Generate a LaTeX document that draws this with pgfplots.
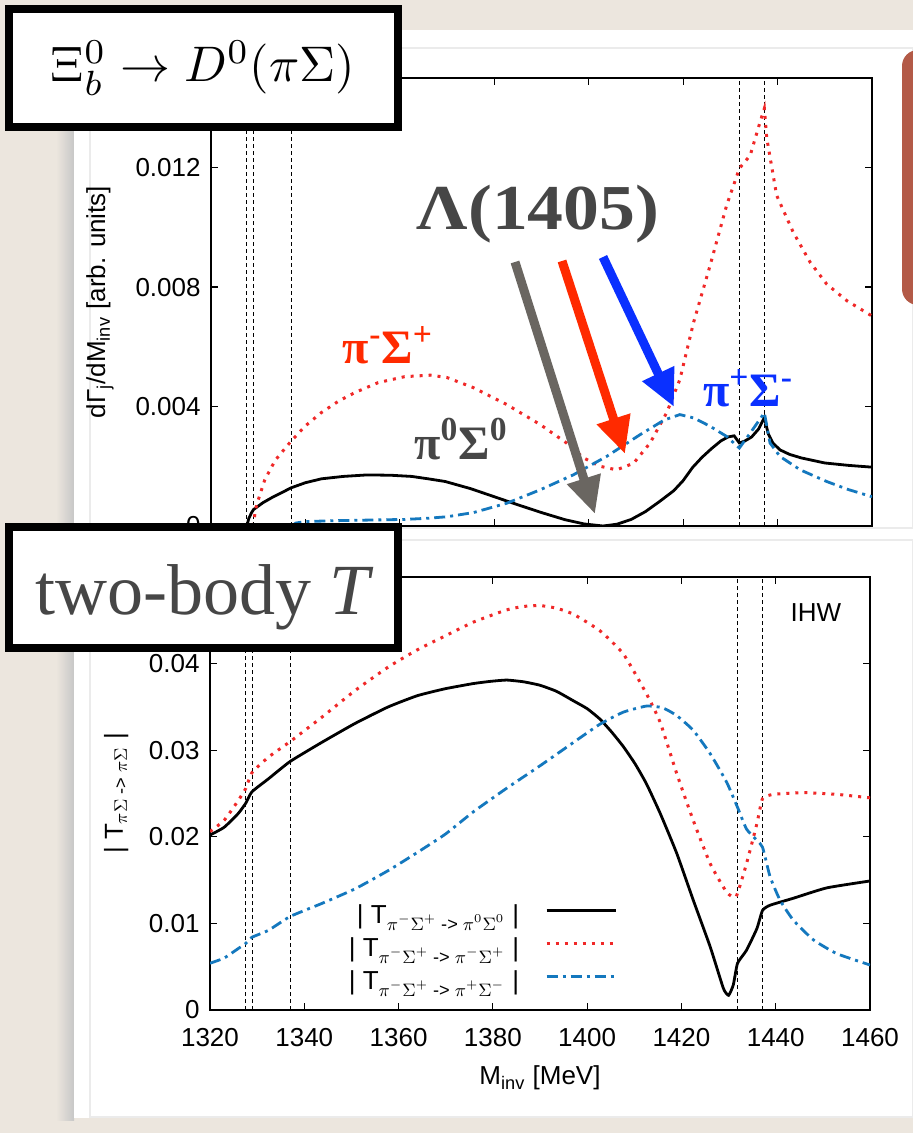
\documentclass[border=0pt]{standalone}
\usepackage{fontspec}
\usepackage{amsmath}
\usepackage{graphicx}
\usepackage{pgfplots}
\pgfplotsset{compat=1.18}
\usetikzlibrary{arrows.meta}
\newfontfamily\arial{Liberation Sans}
\newfontfamily\tms{Liberation Serif}

\definecolor{paper}{HTML}{ECE6DE}
\definecolor{cred}{HTML}{F02828}
\definecolor{cblue}{HTML}{1478BE}
\definecolor{ared}{HTML}{FF2A00}
\definecolor{ablue}{HTML}{0A30FF}
\definecolor{agray}{HTML}{6A6661}
\definecolor{tgray}{HTML}{464646}
\definecolor{redshape}{HTML}{B35A47}

\pgfplotsset{
  panel/.style={
    scale only axis, xmin=1320, xmax=1460,
    axis line style={line width=0.8pt},
    tick style={black, line width=0.6pt},
    major tick length=3.5pt,
    xtick={1320,1340,...,1460},
    tick align=inside,
    scaled ticks=false,
    tick label style={inner sep=0pt},
    yticklabel shift=5pt,
    xticklabel shift=9pt,
  },
  cA/.style={black, line width=1.4pt},
  cB/.style={cred, line width=1.5pt, dash pattern=on 1.5pt off 3pt},
  cC/.style={cblue, line width=1.4pt, dash pattern=on 5.5pt off 2.5pt on 1.5pt off 2.5pt},
  thr/.style={black, line width=0.4pt, dash pattern=on 2pt off 1.5pt, forget plot},
}

\begin{document}
{\arial\fontsize{13}{15}\selectfont
\begin{tikzpicture}
\useasboundingbox (0,0) rectangle (456.5pt,-566.5pt);

% background: paper and white card
\begin{scope}[x=0.5pt,y=-0.5pt]
\fill[paper] (0,0) rectangle (913,1133);
\shade[left color=paper, right color=black!22] (56,30) rectangle (74,1120);
\fill[white] (74,30) rectangle (913,1118);
\draw[black!8, line width=0.6pt] (90,48) rectangle (913,528);
\draw[black!8, line width=0.6pt] (90,540) rectangle (913,1117);
\fill[redshape, rounded corners=8pt] (902,50) rectangle (940,305);
\end{scope}

% top panel: decay spectrum
\begin{axis}[panel, at={(105.5pt,-263pt)}, anchor=south west,
  width=330.5pt, height=224pt,
  ymin=0, ymax=0.015,
  ytick={0,0.004,0.008,0.012}, yticklabels={0,0.004,0.008,0.012},
  xticklabels={},
  ylabel={dΓ\textsubscript{j}/dM\textsubscript{inv} [arb. units]},
  ylabel style={at={(axis description cs:-0.168,0.5)}, anchor=center},
]
\addplot[thr] coordinates {(1327.6,0)(1327.6,0.015)};
\addplot[thr] coordinates {(1328.9,0)(1328.9,0.015)};
\addplot[thr] coordinates {(1337.0,0)(1337.0,0.015)};
\addplot[thr] coordinates {(1431.9,0)(1431.9,0.015)};
\addplot[thr] coordinates {(1437.2,0)(1437.2,0.015)};
\addplot[cA] coordinates {
(1320,0)(1327.6,0)(1328.0,0.00025)(1328.6,0.00045)(1329,0.00055)(1331,0.00078)
(1333,0.00096)(1335,0.00112)(1337,0.00128)(1340,0.00145)(1343.4,0.00158)
(1348,0.00166)(1353,0.00171)(1358,0.0017)(1362.5,0.00166)(1366,0.00158)
(1369.6,0.00149)(1375,0.00125)(1380,0.00098)(1385,0.00071)(1390,0.00045)
(1395,0.00021)(1399,0.00007)(1403,0.0)(1406,0.00006)(1409,0.00022)(1412,0.00048)
(1415,0.00082)(1418,0.00118)(1420,0.00152)(1422,0.00196)(1424,0.0023)
(1426,0.00259)(1428,0.00285)(1429.5,0.00298)(1430.8,0.00302)(1431.9,0.00278)
(1433,0.00284)(1434.5,0.00298)(1436,0.00325)(1437.2,0.00363)(1438,0.0031)
(1439,0.00278)(1440.5,0.00255)(1442.5,0.0024)(1445,0.00228)(1450,0.00211)
(1455,0.00203)(1460,0.00197)
};
\addplot[cB] coordinates {
(1328.9,0)(1329.5,0.0006)(1330,0.00087)(1331.4,0.00155)(1333.6,0.0022)
(1336.9,0.00283)(1339.9,0.00334)(1343.4,0.0038)(1347,0.00418)(1350.5,0.00447)
(1355.4,0.0048)(1361,0.005)(1366.5,0.00505)(1370,0.00497)(1375.6,0.00463)
(1382.6,0.00407)(1389.7,0.0034)(1395.3,0.00278)(1398.9,0.00228)(1402.4,0.002)
(1405.9,0.00188)(1409.5,0.0021)(1413,0.00278)(1416.5,0.00379)(1419.3,0.0049)
(1422.2,0.00681)(1425.7,0.00872)(1429.2,0.01073)(1431.9,0.01197)(1434.2,0.01241)
(1436.3,0.01353)(1437.2,0.01398)(1437.7,0.013)(1439.8,0.01107)(1443.3,0.00984)
(1446.9,0.00883)(1450.4,0.0081)(1454.7,0.00754)(1460,0.00703)
};
\addplot[cC] coordinates {
(1337,0)(1338,0.0001)(1340,0.00015)(1347,0.00018)(1354,0.0002)(1361,0.00022)
(1366,0.00026)(1370,0.00031)(1375.6,0.00045)(1382.6,0.00076)(1389.7,0.00121)
(1396.7,0.00171)(1403.8,0.00233)(1410.9,0.00306)(1416,0.00355)(1419.3,0.00373)
(1422.2,0.00362)(1425.7,0.00334)(1429.2,0.003)(1431.9,0.00261)(1434.2,0.00311)
(1437.2,0.00379)(1438.4,0.00278)(1440.5,0.00233)(1444.8,0.00188)(1450.4,0.00149)
(1455,0.00122)(1460,0.00098)
};
\end{axis}

% bottom panel: two-body amplitudes
\begin{axis}[panel, at={(105pt,-505pt)}, anchor=south west,
  width=330pt, height=216.5pt,
  ymin=0, ymax=0.05,
  ytick={0,0.01,0.02,0.03,0.04}, yticklabels={0,0.01,0.02,0.03,0.04},
  xticklabels={1320,1340,1360,1380,1400,1420,1440,1460},
  xlabel={M\textsubscript{inv} [MeV]},
  xlabel style={at={(axis description cs:0.5,-0.173)}, anchor=base},
  ylabel={| T\textsubscript{$\pi\Sigma$ -> $\pi\Sigma$} |},
  ylabel style={at={(axis description cs:-0.142,0.5)}, anchor=center},
  legend plot pos=right,
  legend cell align=right,
  legend style={at={(axis description cs:0.617,0.2425)}, anchor=north east,
    draw=none, fill=none, inner sep=0pt, outer sep=0pt, row sep=4pt,
    nodes={inner sep=0pt, text height=9pt, text depth=3.5pt}},
  legend image code/.code={\path (0pt,0pt); \draw[#1] (13pt,3.6pt) -- (47.5pt,3.6pt);},
]
\addplot[thr] coordinates {(1327.6,0)(1327.6,0.05)};
\addplot[thr] coordinates {(1328.9,0)(1328.9,0.05)};
\addplot[thr] coordinates {(1337.0,0)(1337.0,0.05)};
\addplot[thr] coordinates {(1431.9,0)(1431.9,0.05)};
\addplot[thr] coordinates {(1437.2,0)(1437.2,0.05)};
\addplot[cA, smooth, tension=0.3] coordinates {
(1320,0.0202)(1323,0.0211)(1326,0.0227)(1327.6,0.0239)(1328.9,0.0252)
(1332.4,0.0267)(1337,0.0287)(1343.7,0.0309)(1350.8,0.0331)(1357.8,0.035)
(1364,0.0363)(1369.9,0.0371)(1375.9,0.0377)(1379.5,0.03795)(1382.9,0.0381)
(1386.5,0.0379)(1390,0.0375)(1393.5,0.0368)(1397.1,0.0357)(1400,0.0348)
(1402.7,0.0336)(1405.2,0.0321)(1407.7,0.0304)(1410.2,0.0284)(1412.6,0.0261)
(1415.5,0.0227)(1419,0.0181)(1422.5,0.0127)(1426.1,0.0073)(1428.9,0.0025)
(1430,0.0017)(1431,0.0029)(1431.9,0.0054)(1433.8,0.0069)(1436,0.0094)
(1437.2,0.0115)(1438.8,0.0121)(1443.7,0.0129)(1450.8,0.0141)(1460,0.0149)
};
\addlegendentry{| T\textsubscript{$\pi^{-}\Sigma^{+}$ -> $\pi^{0}\Sigma^{0}$} |}
\addplot[cB, smooth, tension=0.3] coordinates {
(1320,0.0206)(1323,0.0219)(1326,0.0242)(1327.6,0.0256)(1328.9,0.0274)
(1332.4,0.0292)(1337,0.0310)(1343.7,0.0338)(1350.8,0.0369)(1357.8,0.0396)
(1364,0.0416)(1369.9,0.0432)(1375.9,0.0448)(1382.9,0.0462)(1386.5,0.0466)
(1390,0.0467)(1393.5,0.0464)(1397.1,0.0457)(1402.7,0.0438)(1407.7,0.0411)
(1412.6,0.0365)(1415.5,0.0332)(1419,0.0273)(1422.5,0.0219)(1426.1,0.0169)
(1429.6,0.0136)(1431.6,0.0131)(1433.8,0.0169)(1436,0.0215)(1437.2,0.0244)
(1439.5,0.0249)(1445.9,0.0251)(1453,0.0249)(1460,0.0245)
};
\addlegendentry{| T\textsubscript{$\pi^{-}\Sigma^{+}$ -> $\pi^{-}\Sigma^{+}$} |}
\addplot[cC, smooth, tension=0.3] coordinates {
(1320,0.0054)(1323,0.006)(1326,0.0071)(1327.6,0.0077)(1328.9,0.0084)
(1332.4,0.0092)(1337,0.0108)(1343.7,0.0123)(1350.8,0.014)(1357.8,0.0161)
(1364,0.0182)(1369.9,0.0203)(1375.9,0.0229)(1382.9,0.0256)(1390,0.0282)
(1397.1,0.0309)(1402.7,0.033)(1407.7,0.0344)(1412.6,0.0351)(1416,0.0349)
(1419,0.034)(1422.5,0.0323)(1426.1,0.0296)(1429.6,0.0263)(1431.9,0.0234)
(1433.8,0.0209)(1436,0.0196)(1437.2,0.0188)(1438.8,0.0154)(1440.9,0.0127)
(1443.7,0.0104)(1448,0.0081)(1453,0.0065)(1460,0.0052)
};
\addlegendentry{| T\textsubscript{$\pi^{-}\Sigma^{+}$ -> $\pi^{+}\Sigma^{-}$} |}
\node[anchor=base east] at (axis description cs:0.97,0.898) {IHW};
\end{axis}

% annotations and boxes
\begin{scope}[x=0.5pt,y=-0.5pt]
\draw[agray, line width=4.5pt, -{Triangle[length=18.5pt,width=16.5pt]}] (515,262) -- (595,514);
\draw[ared, line width=4.5pt, -{Triangle[length=18.5pt,width=16.5pt]}] (562,261) -- (625,454);
\draw[ablue, line width=4.5pt, -{Triangle[length=18.5pt,width=16.5pt]}] (603,257) -- (674,407);
\node[anchor=base, text=tgray, font=\tms\bfseries\fontsize{32}{32}\selectfont] at (538,230)
  {\scalebox{1.12}[1]{Λ(1405)}};
\node[anchor=base, text=ared, font=\tms\bfseries\fontsize{24}{24}\selectfont] at (388,364)
  {π\textsuperscript{-}Σ\textsuperscript{+}};
\node[anchor=base, text=tgray, font=\tms\bfseries\fontsize{24}{24}\selectfont] at (461,459)
  {π\textsuperscript{0}Σ\textsuperscript{0}};
\node[anchor=base, text=ablue, font=\tms\bfseries\fontsize{24}{24}\selectfont] at (748,407)
  {π\textsuperscript{+}Σ\textsuperscript{-}};
\draw[line width=4pt, fill=white] (9,9) rectangle (398,127);
\node at (203,68) {\fontsize{10}{12}\selectfont\scalebox{2.5}{$\Xi_b^0\to D^0(\pi\Sigma)$}};
\draw[line width=4pt, fill=white] (9,527) rectangle (398,648);
\node[anchor=base, text=tgray, font=\tms\fontsize{36}{40}\selectfont] at (205,614)
  {two-body \textit{T}};
\end{scope}
\end{tikzpicture}}
\end{document}
